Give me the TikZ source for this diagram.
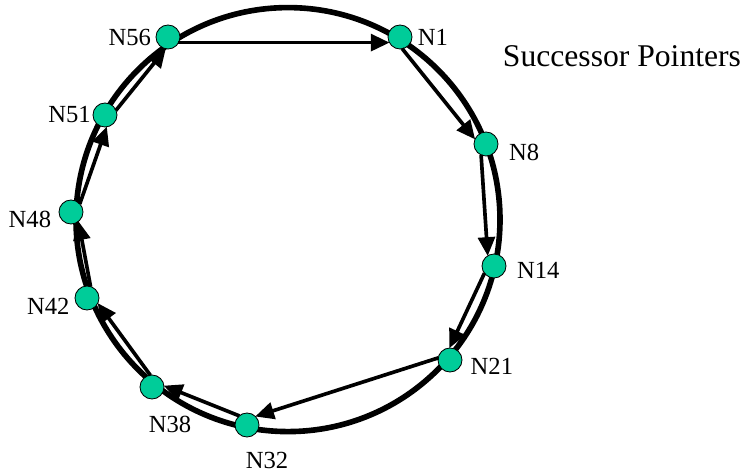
\documentclass[tikz,border=0pt]{standalone}
\usepackage{fontspec}
\setmainfont{Liberation Serif}
\usetikzlibrary{arrows.meta,calc}
\definecolor{peergreen}{RGB}{0,204,153}

\begin{document}
\begin{tikzpicture}[
  peer/.style={circle, draw=black, line width=0.6pt, fill=peergreen, minimum size=0.6cm, inner sep=0pt},
  ring/.style={line width=4pt},
  succ/.style={line width=2.6pt, shorten <=0.26cm, shorten >=0.26cm, -{Triangle[length=0.47cm, width=0.42cm]}},
  every label/.style={font=\fontsize{17.5}{20}\selectfont, inner sep=0pt}
]
\useasboundingbox (-7.1,-6.325) rectangle (11.6,5.55);

% Identifier ring
\draw[ring] (0.1,0.06) circle (5.3cm);

% Peers on the ring
\node[peer, label={[xshift=0.13cm]right:N1}]                 (n1)  at (2.9, 4.625) {};
\node[peer, label={[xshift=0.26cm, yshift=-0.2cm]right:N8}]  (n8)  at (5.05, 1.95) {};
\node[peer, label={[xshift=0.26cm, yshift=-0.1cm]right:N14}] (n14) at (5.25, -1.1) {};
\node[peer, label={[xshift=0.2cm, yshift=-0.15cm]right:N21}] (n21) at (4.15, -3.45) {};
\node[peer, label={[xshift=0.5cm, yshift=-0.37cm]below:N32}] (n32) at (-0.925, -5.075) {};
\node[peer, label={[xshift=0.45cm, yshift=-0.4cm]below:N38}] (n38) at (-3.3, -4.125) {};
\node[peer, label={[xshift=-0.12cm, yshift=-0.2cm]left:N42}] (n42) at (-4.925, -1.9) {};
\node[peer, label={[xshift=-0.18cm, yshift=-0.18cm]left:N48}] (n48) at (-5.325, 0.25) {};
\node[peer, label={[xshift=-0.04cm]left:N51}]                (n51) at (-4.475, 2.675) {};
\node[peer, label={[xshift=-0.11cm]left:N56}]                (n56) at (-2.9, 4.625) {};

% Successor pointers, pushed a little inside the ring
\foreach \from/\to in {n1/n8, n8/n14, n14/n21, n21/n32, n32/n38,
                       n38/n42, n42/n48, n48/n51, n51/n56, n56/n1}
  \draw[succ] ($(\from)!0.14cm!-90:(\to)$) -- ($(\to)!0.14cm!90:(\from)$);

\node[font=\fontsize{22.5}{27}\selectfont, inner sep=0pt] (title) at (8.45, 4.15) {Successor Pointers};

\end{tikzpicture}
\end{document}
